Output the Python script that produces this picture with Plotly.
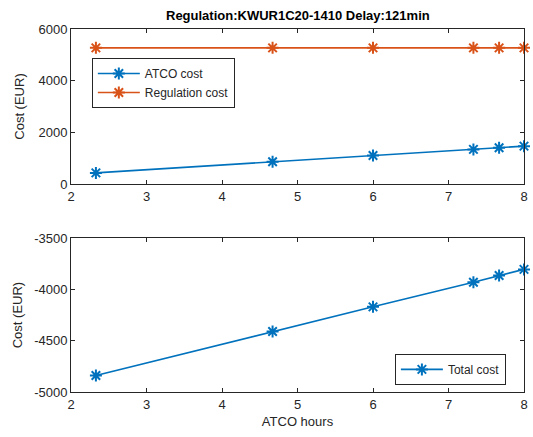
import plotly.graph_objects as go

# ATCO hours (x) and costs in EUR
atco_hours = [2.33, 4.67, 6.0, 7.33, 7.67, 8.0]
atco_cost = [430, 860, 1100, 1340, 1405, 1465]
regulation_cost = [5270, 5270, 5270, 5270, 5270, 5270]
total_cost = [-4840, -4410, -4170, -3930, -3865, -3805]

# bottom panel ticks, written with a plain hyphen like MATLAB does
total_ticks = [-5000, -4500, -4000, -3500]
total_tick_labels = ["-5000", "-4500", "-4000", "-3500"]

BLUE = "#0072BD"
ORANGE = "#D95319"
INK = "#262626"
FONT = "Liberation Sans, Arial, sans-serif"


def star(color):
    return {"symbol": "asterisk-open", "size": 10, "color": color,
            "line": {"width": 2, "color": color}}


fig = go.Figure()
fig.add_trace(
    go.Scatter(
        x=atco_hours, y=atco_cost, mode="lines+markers", name="ATCO cost",
        line={"color": BLUE, "width": 1.6}, marker=star(BLUE), cliponaxis=False,
        xaxis="x", yaxis="y", legend="legend",
    )
)
fig.add_trace(
    go.Scatter(
        x=atco_hours, y=regulation_cost, mode="lines+markers", name="Regulation cost",
        line={"color": ORANGE, "width": 1.6}, marker=star(ORANGE), cliponaxis=False,
        xaxis="x", yaxis="y", legend="legend",
    )
)
fig.add_trace(
    go.Scatter(
        x=atco_hours, y=total_cost, mode="lines+markers", name="Total cost",
        line={"color": BLUE, "width": 1.6}, marker=star(BLUE), cliponaxis=False,
        xaxis="x2", yaxis="y2", legend="legend2",
    )
)

axis_common = dict(
    showline=True, linecolor=INK, linewidth=1, mirror="ticks",
    ticks="inside", ticklen=4, tickcolor=INK, showgrid=False, zeroline=False,
    tickfont={"size": 13, "color": INK, "family": FONT},
)
label_font = {"size": 13, "color": INK}

fig.update_layout(
    width=533, height=437,
    margin={"l": 71, "r": 5, "t": 29, "b": 45},
    plot_bgcolor="white", paper_bgcolor="white",
    font={"family": FONT, "color": INK},
    xaxis=dict(axis_common, domain=[0, 1], range=[2, 8], dtick=1, anchor="y"),
    yaxis=dict(axis_common, domain=[0.573, 1], range=[0, 6000], dtick=2000,
               title={"text": "Cost (EUR)", "font": label_font, "standoff": 10},
               anchor="x"),
    xaxis2=dict(axis_common, domain=[0, 1], range=[2, 8], dtick=1, anchor="y2",
                title={"text": "ATCO hours", "font": label_font, "standoff": 6}),
    yaxis2=dict(axis_common, domain=[0, 0.424], range=[-5000, -3500],
                tickvals=total_ticks, ticktext=total_tick_labels,
                title={"text": "Cost (EUR)", "font": label_font, "standoff": 8},
                anchor="x2"),
    legend=dict(
        x=0.046, y=0.92, xanchor="left", yanchor="top",
        bgcolor="white", bordercolor=INK, borderwidth=1, itemwidth=42,
        font={"size": 12, "color": INK}, tracegroupgap=0,
    ),
    legend2=dict(
        x=0.715, y=0.105, xanchor="left", yanchor="top",
        bgcolor="white", bordercolor=INK, borderwidth=1, itemwidth=42,
        font={"size": 12, "color": INK},
    ),
    showlegend=True,
)

fig.add_annotation(
    text="<b>Regulation:KWUR1C20-1410 Delay:121min</b>",
    xref="paper", yref="paper", x=0.5, y=1, yanchor="bottom", yshift=4,
    showarrow=False, font={"size": 13, "color": "#000000", "family": FONT},
)

# drop the browser's default 8px body margin so the figure fills the window
fig.write_html(
    "out.html",
    config={"displayModeBar": False},
    post_script="document.body.style.margin='0';",
)
